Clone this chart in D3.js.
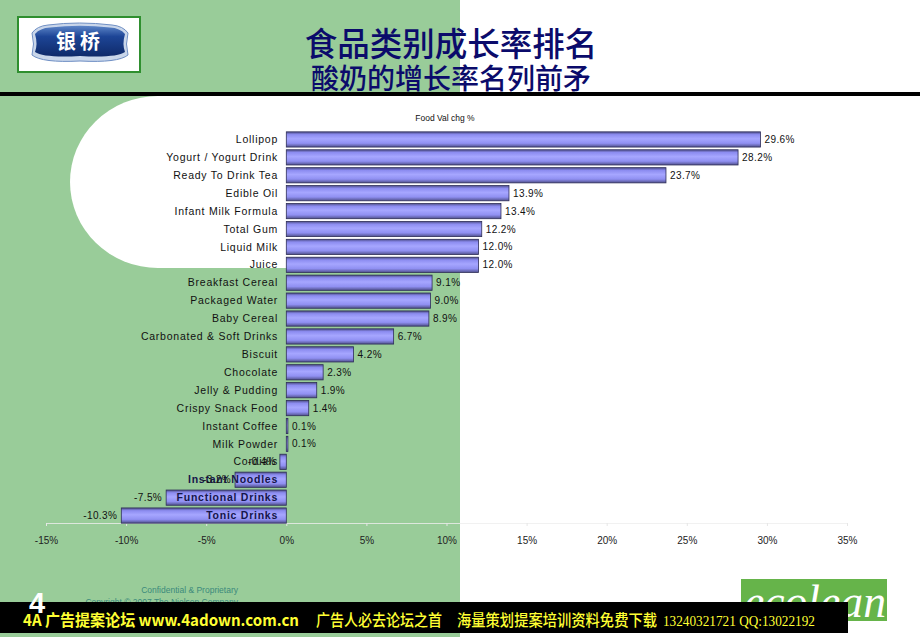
<!DOCTYPE html>
<html><head><meta charset="utf-8">
<script src="https://cdn.jsdelivr.net/npm/d3@7"></script>
<style>
html,body{margin:0;padding:0;background:#fff;}
svg{display:block;}
</style></head>
<body>
<div id="chart"></div>
<script>
const categories = ["Lollipop","Yogurt / Yogurt Drink","Ready To Drink Tea","Edible Oil","Infant Milk Formula","Total Gum","Liquid Milk","Juice","Breakfast Cereal","Packaged Water","Baby Cereal","Carbonated & Soft Drinks","Biscuit","Chocolate","Jelly & Pudding","Crispy Snack Food","Instant Coffee","Milk Powder","Cordials","Instant Noodles","Functional Drinks","Tonic Drinks"];
const values = [29.6,28.2,23.7,13.9,13.4,12.2,12.0,12.0,9.1,9.0,8.9,6.7,4.2,2.3,1.9,1.4,0.1,0.1,-0.4,-3.2,-7.5,-10.3];
const xTicks = [-15,-10,-5,0,5,10,15,20,25,30,35];
const titleLines = ["食品类别成长率排名","酸奶的增长率名列前矛"];
const chartTitle = "Food Val chg %";
const bannerParts = ["4A 广告提案论坛 www.4adown.com.cn","广告人必去论坛之首","海量策划提案培训资料免费下载","13240321721 QQ:13022192"];

const W = 920, H = 637;
const svg = d3.select("#chart").append("svg").attr("width", W).attr("height", H);
const defs = svg.append("defs");
const g1 = defs.append("linearGradient").attr("id","barGrad").attr("x1",0).attr("y1",0).attr("x2",0).attr("y2",1);
[[0,"#4d4d88"],[0.18,"#8c8cf0"],[0.45,"#a6a6ff"],[0.75,"#9090f2"],[1,"#50508c"]].forEach(([o,c])=>g1.append("stop").attr("offset",o).attr("stop-color",c));
const g2 = defs.append("linearGradient").attr("id","badgeGrad").attr("x1",0).attr("y1",0).attr("x2",0).attr("y2",1);
[[0,"#5d86c8"],[0.35,"#1d4596"],[1,"#0f2a6a"]].forEach(([o,c])=>g2.append("stop").attr("offset",o).attr("stop-color",c));

// Backgrounds
const green = "#99cc99";
svg.append("rect").attr("x",0).attr("y",0).attr("width",W).attr("height",H).attr("fill","#fff");
svg.append("rect").attr("x",0).attr("y",0).attr("width",460).attr("height",H).attr("fill",green);
// white rounded shape
const sx=70, sy=96, ex=460, ey=268, rx=88, ry=86;
svg.append("path").attr("fill","#fff").attr("d",
  `M${ex},${sy} L${sx+rx},${sy} A${rx},${ry} 0 0 0 ${sx},${sy+ry} L${sx},${ey-ry} A${rx},${ry} 0 0 0 ${sx+rx},${ey} L${ex},${ey} Z`);

// Title
svg.append("text").attr("x",451).attr("y",56).attr("text-anchor","middle")
  .attr("font-family","'Noto Sans CJK SC',sans-serif").attr("font-weight",500)
  .attr("font-size",32.5).attr("fill","#0b0b6b").text(titleLines[0]);
svg.append("text").attr("x",451).attr("y",89).attr("text-anchor","middle")
  .attr("font-family","'Noto Sans CJK SC',sans-serif").attr("font-weight",500)
  .attr("font-size",28).attr("fill","#0b0b6b").text(titleLines[1]);
// black rule
svg.append("rect").attr("x",0).attr("y",92).attr("width",W).attr("height",4).attr("fill","#000");

// Logo
svg.append("rect").attr("x",18).attr("y",17).attr("width",122).attr("height",55).attr("fill","#fff").attr("stroke","#2f8f2f").attr("stroke-width",2);
svg.append("path").attr("fill","#c9d6ea").attr("stroke","#6f8fc4").attr("stroke-width",1)
  .attr("d","M32,33 Q37,26 48,25 Q79,21 112,25 Q123,26 128,33 Q125,44 128,55 Q118,63 80,61 Q42,63 32,55 Q35,44 32,33 Z");
svg.append("path").attr("fill","url(#badgeGrad)")
  .attr("d","M35,34 Q40,28 50,27.5 Q80,24 110,27.5 Q120,28 125,34 Q122,44 125,52 Q116,58 80,56 Q44,58 35,52 Q38,44 35,34 Z");
svg.append("text").attr("x",80).attr("y",49).attr("text-anchor","middle")
  .attr("font-family","'Noto Sans CJK SC',sans-serif").attr("font-weight",700)
  .attr("font-size",20).attr("fill","#fff").attr("letter-spacing",4).text("银桥");

// Chart
const x = d3.scaleLinear().domain([-15,35]).range([46,847]);
const y = d3.scaleBand().domain(categories).range([130.5,524.5]).paddingInner(0.15).paddingOuter(0.075);
const font = "Arial, 'Liberation Sans', sans-serif";

svg.append("text").attr("x",445).attr("y",121).attr("text-anchor","middle")
  .attr("font-family",font).attr("font-size",8.5).attr("fill","#111").text(chartTitle);

// axis
const axisG = svg.append("g").attr("transform","translate(0,523)")
  .call(d3.axisBottom(x).tickValues(xTicks).tickSize(3).tickFormat(d=>d+"%"));
axisG.select(".domain").attr("stroke","#eeeeee").attr("stroke-opacity",0.8);
axisG.selectAll(".tick line").attr("stroke","#e6e6e6");
axisG.selectAll(".tick text").attr("font-family",font).attr("font-size",10).attr("fill","#222").attr("dy","1.45em");

// bars
const data = categories.map((c,i)=>({c, v: values[i]}));
svg.append("g").selectAll("rect").data(data).join("rect")
  .attr("x", d=>x(Math.min(0,d.v))).attr("y", d=>y(d.c))
  .attr("width", d=>Math.max(1.5, Math.abs(x(d.v)-x(0)))).attr("height", y.bandwidth())
  .attr("fill","url(#barGrad)").attr("stroke","#2e2e58").attr("stroke-width",0.8);

// category labels
svg.append("g").selectAll("text").data(data).join("text")
  .attr("x",278).attr("y", d=>y(d.c)+y.bandwidth()/2).attr("dy","0.35em")
  .attr("text-anchor","end").attr("font-family",font).attr("font-size",10.5)
  .attr("letter-spacing",0.75).attr("fill", d=>d.v < -2 ? "#15154a" : "#111")
  .attr("font-weight", d=>d.v < -2 ? 700 : 400)
  .text(d=>d.c);

// value labels
svg.append("g").selectAll("text").data(data).join("text")
  .attr("x", d=> d.v>=0 ? x(d.v)+4 : x(d.v)-4)
  .attr("y", d=>y(d.c)+y.bandwidth()/2).attr("dy","0.35em")
  .attr("text-anchor", d=> d.v>=0 ? "start" : "end")
  .attr("font-family",font).attr("font-size",10).attr("letter-spacing",0.4).attr("fill","#111")
  .text(d=>d.v.toFixed(1)+"%");

// Footer
svg.append("text").attr("x",238).attr("y",593).attr("text-anchor","end")
  .attr("font-family",font).attr("font-size",8.5).attr("fill","#3b8a7c").text("Confidential & Proprietary");
svg.append("text").attr("x",238).attr("y",605).attr("text-anchor","end")
  .attr("font-family",font).attr("font-size",8.5).attr("fill","#3b8a7c").text("Copyright © 2007 The Nielsen Company");

// ecolean logo
svg.append("rect").attr("x",741).attr("y",579).attr("width",146).attr("height",42).attr("fill","#66b44a");
svg.append("text").attr("x",744).attr("y",617).attr("font-family","'Liberation Serif',serif").attr("font-style","italic")
  .attr("font-size",46).attr("fill","#fff").attr("textLength",142).attr("lengthAdjust","spacingAndGlyphs").text("ecolean");

// Black banner
svg.append("rect").attr("x",0).attr("y",602).attr("width",848).attr("height",31).attr("fill","#000");
const bannerPos = [[23,276],[316,126],[457,200],[663,152]];
bannerParts.forEach((t,i)=>{
  svg.append("text").attr("x",bannerPos[i][0]).attr("y",626)
    .attr("font-family", i===3 ? "'Liberation Serif',serif" : "'Noto Sans CJK SC',sans-serif")
    .attr("font-weight", i===0 ? 700 : 500)
    .attr("font-size", i===3 ? 15 : 16).attr("fill", "#ffff33")
    .attr("textLength",bannerPos[i][1]).attr("lengthAdjust","spacingAndGlyphs").text(t);
});
svg.append("text").attr("x",29).attr("y",613).attr("font-family",font).attr("font-weight",700)
  .attr("font-size",29).attr("fill","#fff").text("4");
</script>
</body></html>
